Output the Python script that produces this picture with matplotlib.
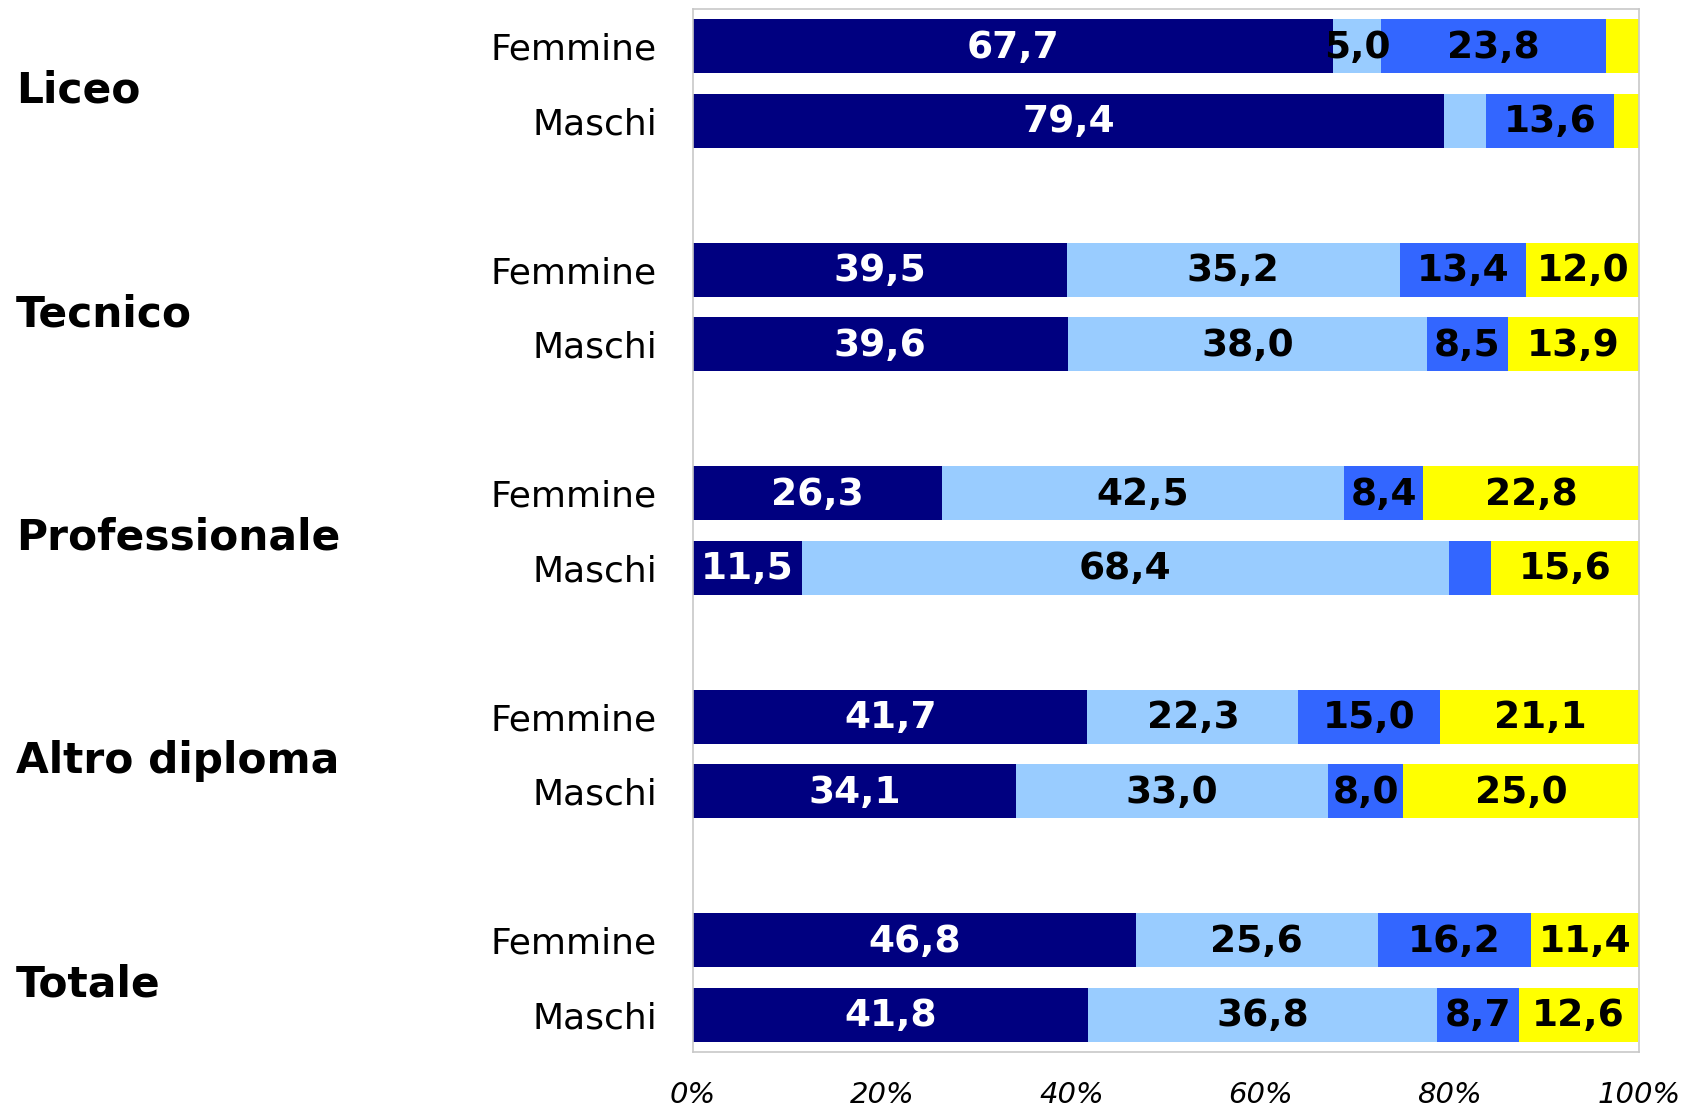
import numpy as np
from matplotlib import pyplot as plt
from matplotlib import transforms

# Dati
gruppi = ['Liceo', 'Tecnico', 'Professionale', 'Altro diploma', 'Totale']
sessi = ['Femmine', 'Maschi']

# una riga per barra: Liceo F, Liceo M, Tecnico F, Tecnico M, ...
serie1 = [67.7, 79.4, 39.5, 39.6, 26.3, 11.5, 41.7, 34.1, 46.8, 41.8]
serie2 = [5.0, 4.4, 35.2, 38.0, 42.5, 68.4, 22.3, 33.0, 25.6, 36.8]
serie3 = [23.8, 13.6, 13.4, 8.5, 8.4, 4.5, 15.0, 8.0, 16.2, 8.7]
serie4 = [3.5, 2.6, 12.0, 13.9, 22.8, 15.6, 21.1, 25.0, 11.4, 12.6]

colori = ['#000080', '#99CCFF', '#3366FF', '#FFFF00']
colori_testo = ['white', 'black', 'black', 'black']

fig = plt.figure(figsize=(16.84, 11.09), dpi=100)
ax = fig.add_axes([0.4115, 0.0514, 0.9733 - 0.4115, 0.9919 - 0.0514])

# posizioni: F e M adiacenti, poi uno spazio vuoto
Y = []
for g in range(len(gruppi)):
    Y.append(g * 3)
    Y.append(g * 3 + 1)
Y = np.array(Y)

left = np.zeros(len(Y))
for valori, col, tcol in zip([serie1, serie2, serie3, serie4], colori, colori_testo):
    valori = np.array(valori)
    ax.barh(Y, valori, left=left, height=0.73, color=col, linewidth=0)
    for y, l, v in zip(Y, left, valori):
        if v >= 5:
            ax.text(l + v / 2, y + 0.02, ('%.1f' % v).replace('.', ','),
                    ha='center', va='center', color=tcol,
                    fontsize=27, fontweight='bold')
    left = left + valori

ax.set_xlim(0, 100)
ax.set_ylim(13.5, -0.5)

ax.set_yticks(Y)
ax.set_yticklabels(sessi * len(gruppi), fontsize=26)
ax.set_xticks([0, 20, 40, 60, 80, 100])
ax.set_xticklabels(['0%', '20%', '40%', '60%', '80%', '100%'],
                   fontsize=21, fontstyle='italic')
ax.tick_params(axis='y', length=0, pad=26)
ax.tick_params(axis='x', length=0, pad=21)

for s in ax.spines.values():
    s.set_color('#c8c8c8')
    s.set_linewidth(1.2)

# etichette dei gruppi
trans = transforms.blended_transform_factory(fig.transFigure, ax.transData)
for g, nome in enumerate(gruppi):
    ax.text(16 / 1684, g * 3 + 0.6, nome, transform=trans,
            ha='left', va='center', fontsize=30.5, fontweight='bold')

plt.savefig('out.png')
